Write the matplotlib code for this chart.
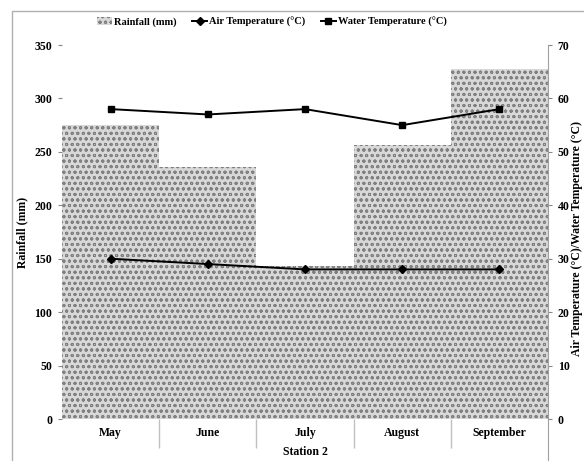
import matplotlib.pyplot as plt
from matplotlib.patches import Patch, Rectangle
from matplotlib.lines import Line2D

plt.rcParams['font.family'] = ['Liberation Serif', 'DejaVu Serif']
plt.rcParams['font.weight'] = 'bold'
plt.rcParams['hatch.linewidth'] = 0.7

# ---- data ----
months = ['May', 'June', 'July', 'August', 'September']
rainfall = [275, 236, 143, 256, 328]
air_temp = [30, 29, 28, 28, 28]
water_temp = [58, 57, 58, 55, 58]

BAR_FACE = '#d8d8d8'
BAR_HATCH = '#808080'

fig = plt.figure(figsize=(5.84, 4.61), dpi=100)
ax = fig.add_axes([62 / 584, 42 / 461, 486 / 584, 374 / 461])

x = range(len(months))
ax.bar(x, rainfall, width=1.0, color=BAR_FACE, edgecolor=BAR_HATCH,
       hatch='ooo', linewidth=0, zorder=1)
ax.set_xlim(-0.5, len(months) - 0.5)
ax.set_ylim(0, 350)
ax.set_yticks(range(0, 351, 50))
ax.set_xticks(list(x))
ax.set_xticklabels(months)
ax.set_xticks([i + 0.5 for i in range(len(months) - 1)], minor=True)
ax.tick_params(axis='x', which='major', length=0, pad=6, labelsize=8.5)
ax.tick_params(axis='x', which='minor', length=21, color='#c0c0c0', width=1)
ax.tick_params(axis='y', length=3, color='#888888', labelsize=8.5, pad=4)
for s in ['top', 'left', 'bottom', 'right']:
    ax.spines[s].set_visible(False)

ax2 = ax.twinx()
ax2.plot(x, air_temp, color='black', lw=1.4, marker='D', ms=4, zorder=3)
ax2.plot(x, water_temp, color='black', lw=1.4, marker='s', ms=5, zorder=3)
ax2.set_ylim(0, 70)
ax2.set_yticks(range(0, 71, 10))
ax2.tick_params(axis='y', length=3, color='#888888', labelsize=8.5, pad=4)
for s in ['top', 'left', 'bottom']:
    ax2.spines[s].set_visible(False)
ax2.spines['right'].set_color('#a0a0a0')
ax2.spines['right'].set_bounds(-8, 70)

# axis titles
fig.text(22 / 584, 1 - 232 / 461, 'Rainfall (mm)', rotation=90,
         ha='center', va='center', fontsize=8.5, fontweight='bold')
fig.text(577 / 584, 1 - 238 / 461,
         'Air Temperature (\u00b0C)/Water Temperature (\u00b0C)', rotation=90,
         ha='center', va='center', fontsize=8.5, fontweight='bold')
fig.text(305 / 584, 1 - 452 / 461, 'Station 2', ha='center', va='center',
         fontsize=8.5, fontweight='bold')

handles = [
    Patch(facecolor=BAR_FACE, edgecolor=BAR_HATCH, hatch='ooo', linewidth=0),
    Line2D([], [], color='black', lw=1.4, marker='D', ms=4),
    Line2D([], [], color='black', lw=1.4, marker='s', ms=5),
]
labels = ['Rainfall (mm)', 'Air Temperature (\u00b0C)', 'Water Temperature (\u00b0C)']
fig.legend(handles, labels, loc='center', bbox_to_anchor=(272 / 584, 1 - 22 / 461),
           ncol=3, frameon=False, fontsize=7.5, handlelength=1.4,
           handleheight=0.8, handletextpad=0.2, columnspacing=1.5)

# outer chart border
fig.patches.append(Rectangle((12 / 584, -0.1), 1.0, 1.1 - 11 / 461,
                             transform=fig.transFigure, fill=False,
                             edgecolor='#b0b0b0', lw=1))

fig.savefig('out.png', dpi=100)
